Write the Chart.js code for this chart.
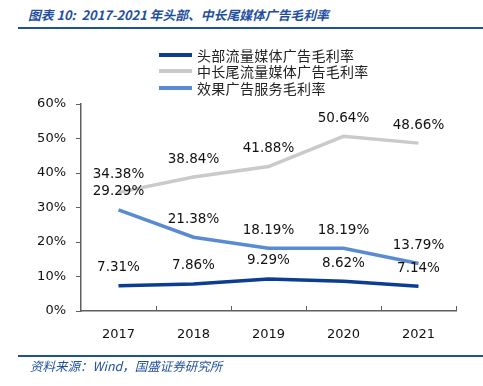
<!DOCTYPE html>
<html>
<head>
<meta charset="utf-8">
<script src="https://cdn.jsdelivr.net/npm/chart.js@4"></script>
<style>
    html, body { margin: 0; padding: 0; background: #fff; }
    #wrap { position: relative; width: 483px; height: 386px; overflow: hidden; }
    #chart { position: absolute; left: 0; top: 0; }
    .title { position: absolute; left: 28px; top: 5px; font: italic 600 12.8px "Noto Sans CJK SC", sans-serif; color: #1f4f9f; white-space: nowrap; }
    .rule { position: absolute; left: 18px; right: 0; height: 2px; background: #1f4f9f; }
    .source { position: absolute; left: 30px; top: 356px; font: italic 12.5px "Noto Sans CJK SC", sans-serif; color: #1f4f9f; white-space: nowrap; }
    #legend { position: absolute; left: 159px; top: 47px; font: 14px "Noto Sans CJK SC", sans-serif; color: #222; }
    .item { height: 16.3px; line-height: 16px; display: flex; align-items: center; white-space: nowrap; letter-spacing: 0.3px; }
    .swatch { width: 33px; height: 4px; margin-right: 5px; }
</style>
</head>
<body>
<div id="wrap">
    <div class="title">图表 10:&nbsp; 2017-2021 年头部、中长尾媒体广告毛利率</div>
    <div class="rule" style="top: 27px"></div>
    <canvas id="chart" width="483" height="386"></canvas>
    <div id="legend"></div>
    <div class="rule" style="top: 355px"></div>
    <div class="source">资料来源：Wind，国盛证券研究所</div>
</div>
<script>
const YEARS = ['2017', '2018', '2019', '2020', '2021'];
const HEAD = [7.31, 7.86, 9.29, 8.62, 7.14];
const LONG_TAIL = [34.38, 38.84, 41.88, 50.64, 48.66];
const EFFECT = [29.29, 21.38, 18.19, 18.19, 13.79];
const SERIES_NAMES = ['头部流量媒体广告毛利率', '中长尾流量媒体广告毛利率', '效果广告服务毛利率'];
const SERIES_COLORS = ['#0b3d91', '#cacaca', '#5a8bd2'];

const AXIS_COLOR = '#5f5f5f';

// value labels sit a fixed distance above each point
const valueLabels = {
    id: 'valueLabels',
    afterDatasetsDraw(chart) {
        const ctx = chart.ctx;
        ctx.save();
        ctx.font = '13.5px "DejaVu Sans"';
        ctx.fillStyle = '#111';
        ctx.textAlign = 'center';
        ctx.textBaseline = 'middle';
        chart.data.datasets.forEach((ds, i) => {
            chart.getDatasetMeta(i).data.forEach((pt, j) => {
                ctx.fillText(ds.data[j].toFixed(2) + '%', pt.x, pt.y - 18);
            });
        });
        ctx.restore();
    }
};

// x axis tick marks between categories, pointing up
const xTicks = {
    id: 'xTicks',
    afterDraw(chart) {
        const x = chart.scales.x;
        const ctx = chart.ctx;
        ctx.save();
        ctx.strokeStyle = AXIS_COLOR;
        ctx.lineWidth = 1;
        for (let i = 0; i < YEARS.length; i++) {
            const px = Math.round(i < YEARS.length - 1
                ? (x.getPixelForValue(i) + x.getPixelForValue(i + 1)) / 2
                : x.right) + 0.5;
            ctx.beginPath();
            ctx.moveTo(px, x.top);
            ctx.lineTo(px, x.top - 5);
            ctx.stroke();
        }
        ctx.restore();
    }
};

function buildLegend() {
    document.getElementById('legend').innerHTML = SERIES_NAMES.map((n, i) => `
        <div class="item"><span class="swatch" style="background:${SERIES_COLORS[i]}"></span>${n}</div>
    `).join('');
}

function makeChart() {
    const ctx = document.getElementById('chart').getContext('2d');
    const sets = [HEAD, LONG_TAIL, EFFECT];
    new Chart(ctx, {
        type: 'line',
        data: {
            labels: YEARS,
            datasets: sets.map((d, i) => ({
                label: SERIES_NAMES[i],
                data: d,
                borderColor: SERIES_COLORS[i],
                borderWidth: 3.5,
                pointRadius: 0,
                tension: 0,
                fill: false
            }))
        },
        options: {
            responsive: false,
            animation: false,
            layout: { padding: { top: 104, left: 0, right: 27, bottom: 35 } },
            plugins: { legend: { display: false }, tooltip: { enabled: false } },
            scales: {
                x: {
                    offset: true,
                    afterFit: s => { s.height = 40; },
                    grid: { display: false },
                    border: { display: true, color: AXIS_COLOR, width: 1.5 },
                    ticks: { color: '#111', font: { family: 'DejaVu Sans', size: 13 }, padding: 8 }
                },
                y: {
                    min: 0, max: 60,
                    afterFit: s => { s.width = 81; },
                    grid: { drawOnChartArea: false, drawTicks: true, tickLength: 5, color: AXIS_COLOR },
                    border: { display: true, color: AXIS_COLOR, width: 1.5 },
                    ticks: {
                        stepSize: 10,
                        padding: 10,
                        color: '#111',
                        font: { family: 'DejaVu Sans', size: 13 },
                        callback: v => v + '%'
                    }
                }
            }
        },
        plugins: [valueLabels, xTicks]
    });
}

buildLegend();
makeChart();
</script>
</body>
</html>
